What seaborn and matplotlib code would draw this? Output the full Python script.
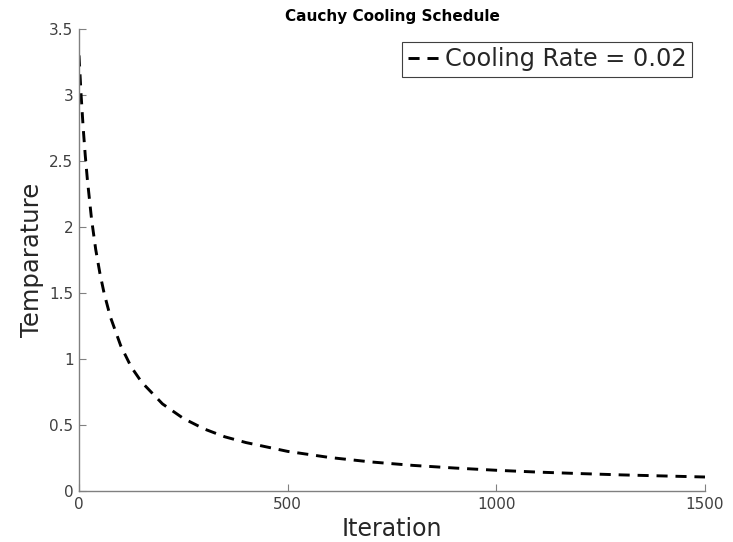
import matplotlib
matplotlib.use("Agg")
import matplotlib.pyplot as plt
import seaborn as sns
import pandas as pd
from matplotlib.ticker import FuncFormatter

iterations = [0, 5, 10, 15, 20, 30, 40, 50, 60, 75, 100, 125, 150, 200, 250, 300, 350, 400,
              500, 600, 700, 800, 900, 1000, 1100, 1200, 1300, 1400, 1500]
temperature = [3.30, 3.00, 2.75, 2.54, 2.36, 2.06, 1.83, 1.65, 1.50, 1.32, 1.10, 0.94, 0.825,
               0.66, 0.55, 0.47, 0.41, 0.367, 0.30, 0.254, 0.22, 0.194, 0.174, 0.157, 0.143,
               0.132, 0.122, 0.114, 0.106]
series_label = "Cooling Rate = 0.02"
x_ticks = [0, 500, 1000, 1500]
y_ticks = [0, 0.5, 1, 1.5, 2, 2.5, 3, 3.5]

df = pd.DataFrame({"Iteration": iterations, "Temparature": temperature})

sns.set_style("white")
plt.rcParams['font.family'] = ['DejaVu Sans']

fig = plt.figure(figsize=(7.33, 5.42), dpi=100)
ax = fig.add_axes([0.1078, 0.0941, 0.8540, 0.8524])

sns.lineplot(data=df, x="Iteration", y="Temparature", ax=ax, color="black",
             linewidth=2.1, label=series_label)
ax.lines[0].set_dashes([3.8, 2.7])

ax.set_xlim(0, 1500)
ax.set_ylim(0, 3.5)
ax.set_xticks(x_ticks)
ax.set_yticks(y_ticks)
fmt = FuncFormatter(lambda v, p: f"{v:g}")
ax.xaxis.set_major_formatter(fmt)
ax.yaxis.set_major_formatter(fmt)

for s in ["top", "right"]:
    ax.spines[s].set_visible(False)
for s in ["left", "bottom"]:
    ax.spines[s].set_color("#808080")
    ax.spines[s].set_linewidth(1.0)
ax.tick_params(bottom=True, left=True, direction="in", length=5, width=0.8, color="#808080",
               labelsize=11, labelcolor="#404040", pad=4)

ax.set_xlabel("Iteration", fontsize=17, color="#262626", labelpad=4)
ax.set_ylabel("Temparature", fontsize=17.5, color="#262626", labelpad=4)
ax.set_title("Cauchy Cooling Schedule", fontsize=11, fontweight="bold", color="black", pad=6)

leg = ax.legend(loc="upper right", fontsize=17.3, frameon=True, fancybox=False,
                edgecolor="#404040", framealpha=1, handlelength=1.5, handletextpad=0.05,
                borderpad=0.22, borderaxespad=0.55)
leg.get_frame().set_linewidth(0.8)

fig.savefig("out.png", dpi=100)
